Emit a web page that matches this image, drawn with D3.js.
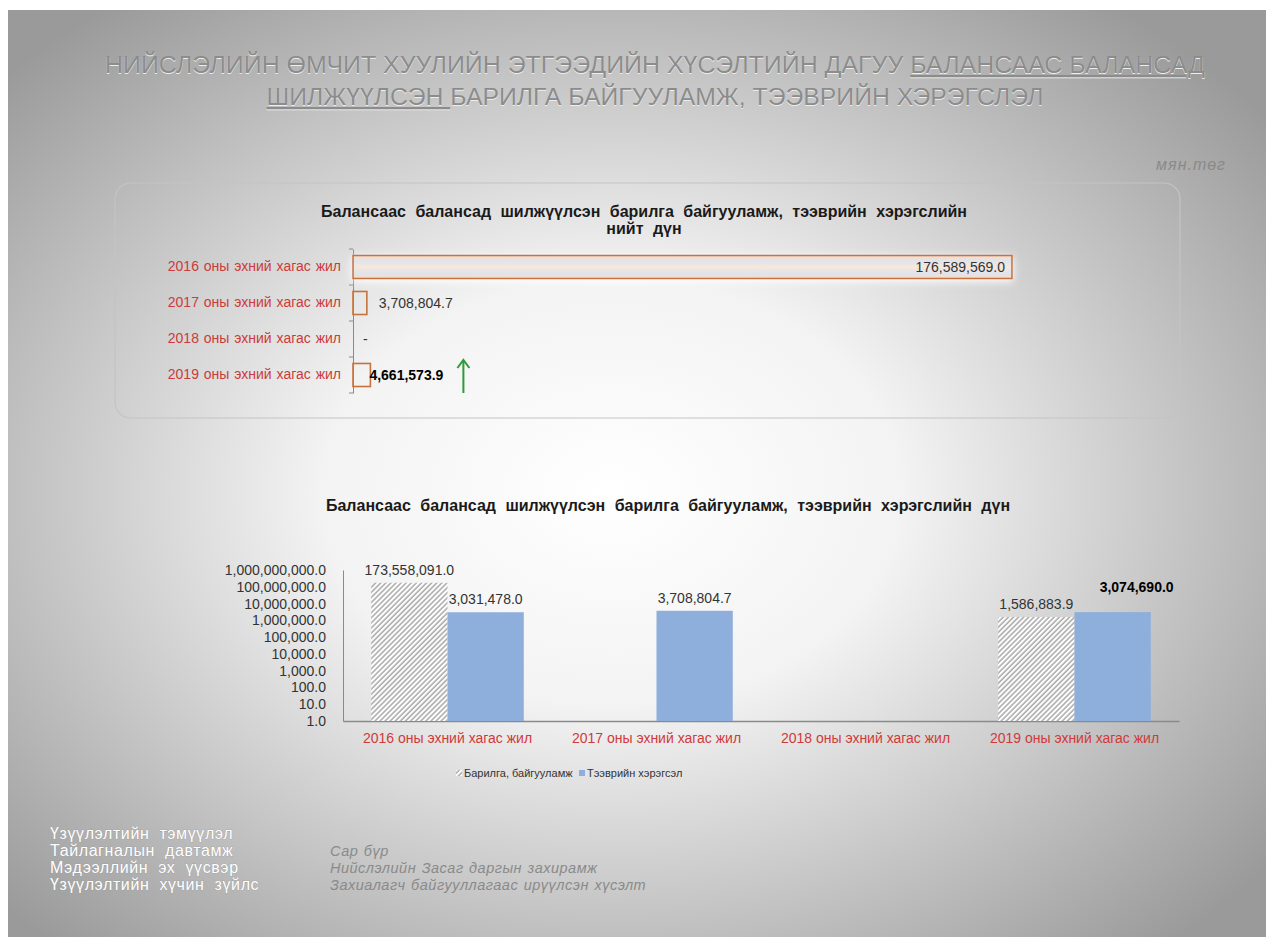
<!DOCTYPE html>
<html>
<head>
<meta charset="utf-8">
<script src="https://cdn.jsdelivr.net/npm/d3@7"></script>
<style>
	body { margin: 0; background: #fff; }
	text { font-family: "Liberation Sans", Arial, sans-serif; }
</style>
</head>
<body>
<div id="slide"></div>
<script>
// Data
var categories = ["2016 оны эхний  хагас жил", "2017 оны эхний  хагас жил", "2018 оны эхний  хагас жил", "2019 оны эхний  хагас жил"];
var totals = [176589569.0, 3708804.7, 0, 4661573.9];
var buildings = [173558091.0, null, null, 1586883.9];
var vehicles = [3031478.0, 3708804.7, null, 3074690.0];
var seriesNames = ["Барилга, байгууламж", "Тээврийн хэрэгсэл"];
var yTicks = [1, 10, 100, 1000, 10000, 100000, 1000000, 10000000, 100000000, 1000000000];
var footerLabels = ["Үзүүлэлтийн тэмүүлэл", "Тайлагналын давтамж", "Мэдээллийн эх үүсвэр", "Үзүүлэлтийн хүчин зүйлс"];
var footerValues = ["", "Сар бүр", "Нийслэлийн Засаг даргын захирамж", "Захиалагч байгууллагаас ирүүлсэн хүсэлт"];

var fmt = d3.format(",.1f");

var svg = d3.select("#slide")
	.append("svg")
	.attr("width", 1274)
	.attr("height", 947);

var defs = svg.append("defs");

// slide background
var bg = defs.append("radialGradient")
	.attr("id", "bg")
	.attr("cx", "48%")
	.attr("cy", "52%")
	.attr("r", "66%");
bg.append("stop").attr("offset", "0%").attr("stop-color", "#ffffff");
bg.append("stop").attr("offset", "35%").attr("stop-color", "#f3f3f3");
bg.append("stop").attr("offset", "100%").attr("stop-color", "#9a9a9a");

// hatch for buildings
var hatch = defs.append("pattern")
	.attr("id", "hatch")
	.attr("patternUnits", "userSpaceOnUse")
	.attr("width", 3.6)
	.attr("height", 3.6)
	.attr("patternTransform", "rotate(45)");
hatch.append("rect").attr("width", 3.6).attr("height", 3.6).attr("fill", "#ffffff");
hatch.append("line")
	.attr("x1", 1).attr("y1", 0).attr("x2", 1).attr("y2", 3.6)
	.attr("stroke", "#9a9a9a")
	.attr("stroke-width", 1.3);

// fill of the total bars
var barGrad = defs.append("linearGradient")
	.attr("id", "barGrad")
	.attr("x1", 0).attr("y1", 0).attr("x2", 0).attr("y2", 1);
barGrad.append("stop").attr("offset", "0%").attr("stop-color", "#f7dcc8");
barGrad.append("stop").attr("offset", "25%").attr("stop-color", "#dfe5ee");
barGrad.append("stop").attr("offset", "50%").attr("stop-color", "#f8e6d9");
barGrad.append("stop").attr("offset", "75%").attr("stop-color", "#dfe5ee");
barGrad.append("stop").attr("offset", "100%").attr("stop-color", "#f7dcc8");

var glow = defs.append("filter")
	.attr("id", "glow")
	.attr("x", "-10%").attr("y", "-60%")
	.attr("width", "120%").attr("height", "220%");
glow.append("feDropShadow")
	.attr("dx", 0).attr("dy", 2)
	.attr("stdDeviation", 4)
	.attr("flood-color", "#ffffff")
	.attr("flood-opacity", 1);

svg.append("rect")
	.attr("x", 8)
	.attr("y", 10)
	.attr("width", 1258)
	.attr("height", 927)
	.attr("fill", "url(#bg)");

// Page title
var titleLines = [
	[["НИЙСЛЭЛИЙН ӨМЧИТ ХУУЛИЙН ЭТГЭЭДИЙН ХҮСЭЛТИЙН ДАГУУ ", false], ["БАЛАНСААС БАЛАНСАД", true]],
	[["ШИЛЖҮҮЛСЭН ", true], ["БАРИЛГА БАЙГУУЛАМЖ, ТЭЭВРИЙН ХЭРЭГСЛЭЛ", false]]
];
var titleWidths = [1100, 777];
[["#eeeeee", 1], ["#8c8c8c", 0]].forEach(function(layer) {
	titleLines.forEach(function(line, i) {
		var t = svg.append("text")
			.attr("x", 655)
			.attr("y", 73 + i * 32 + layer[1])
			.attr("text-anchor", "middle")
			.attr("textLength", titleWidths[i])
			.attr("lengthAdjust", "spacingAndGlyphs")
			.style("font-family", "'Liberation Sans Narrow', 'Liberation Sans', sans-serif")
			.style("font-size", "23px")
			.style("fill", layer[0]);
		line.forEach(function(part) {
			t.append("tspan")
				.style("text-decoration", part[1] ? "underline" : "none")
				.text(part[0]);
		});
	});
});

svg.append("text")
	.attr("x", 1226)
	.attr("y", 170)
	.attr("text-anchor", "end")
	.style("font-size", "16px")
	.style("font-style", "italic")
	.style("letter-spacing", "1px")
	.style("fill", "#8a8a8a")
	.text("мян.төг");

// ---------- upper chart: totals ----------
svg.append("rect")
	.attr("x", 115)
	.attr("y", 183)
	.attr("width", 1065)
	.attr("height", 235)
	.attr("rx", 16)
	.attr("fill", "none")
	.attr("stroke", "#c4c4c4")
	.attr("stroke-width", 1.2);

var upperTitle = ["Балансаас балансад шилжүүлсэн барилга байгууламж, тээврийн хэрэгслийн", "нийт дүн"];
svg.append("g")
	.selectAll("text")
	.data(upperTitle)
	.enter()
	.append("text")
	.attr("x", 644)
	.attr("y", function(d, i) { return 217 + i * 17; })
	.attr("text-anchor", "middle")
	.style("font-size", "16px")
	.style("font-weight", "bold")
	.style("word-spacing", "5px")
	.style("fill", "#1a1a1a")
	.text(function(d) { return d; });

var xTot = d3.scaleLinear()
	.domain([0, d3.max(totals)])
	.range([353, 1012]);

var yTot = d3.scaleBand()
	.domain(categories)
	.range([249, 393])
	.paddingInner(0.36)
	.paddingOuter(0.18);

var yTotAxis = svg.append("g")
	.attr("transform", "translate(353,0)")
	.call(d3.axisLeft(yTot).tickSize(0).tickPadding(12));
yTotAxis.select(".domain").attr("stroke", "#8a8a8a");
yTotAxis.selectAll("text")
	.style("font-family", "'Liberation Sans', sans-serif")
	.style("font-size", "14px")
	.style("word-spacing", "1px")
	.style("fill", "#cc3a3a");

// small ticks between categories
svg.append("g")
	.selectAll("line")
	.data(d3.range(categories.length + 1))
	.enter()
	.append("line")
	.attr("x1", 349)
	.attr("x2", 353)
	.attr("y1", function(d) { return yTot.range()[0] + d * yTot.step(); })
	.attr("y2", function(d) { return yTot.range()[0] + d * yTot.step(); })
	.attr("stroke", "#8a8a8a");

var totRows = totals.map(function(v, i) {
	return { cat: categories[i], value: v, idx: i };
});

svg.append("g")
	.selectAll("rect")
	.data(totRows.filter(function(d) { return d.value > 0; }))
	.enter()
	.append("rect")
	.attr("x", xTot(0))
	.attr("y", function(d) { return yTot(d.cat); })
	.attr("width", function(d) { return xTot(d.value) - xTot(0); })
	.attr("height", yTot.bandwidth())
	.attr("fill", function(d) { return d.idx === 0 ? "url(#barGrad)" : "none"; })
	.attr("stroke", "#c8733a")
	.attr("stroke-width", 1.6)
	.attr("filter", function(d) { return d.idx === 0 ? "url(#glow)" : null; });

svg.append("g")
	.selectAll("text")
	.data(totRows)
	.enter()
	.append("text")
	.attr("x", function(d) {
		if (d.idx === 0) return xTot(d.value) - 7;
		if (d.value === 0) return xTot(0) + 10;
		if (d.idx === 3) return xTot(d.value) - 1;
		return xTot(d.value) + 12;
	})
	.attr("y", function(d) { return yTot(d.cat) + yTot.bandwidth() / 2; })
	.attr("dy", "0.35em")
	.attr("text-anchor", function(d) { return d.idx === 0 ? "end" : "start"; })
	.style("font-size", "14px")
	.style("font-weight", function(d) { return d.idx === 3 ? "bold" : "normal"; })
	.style("fill", function(d) { return d.idx === 3 ? "#000" : "#333"; })
	.text(function(d) { return d.value === 0 ? "-" : fmt(d.value); });

// green arrow next to 2019
var arrowX = xTot(totals[3]) + 93;
var arrowY = yTot(categories[3]) + yTot.bandwidth() / 2;
svg.append("line")
	.attr("x1", arrowX).attr("x2", arrowX)
	.attr("y1", arrowY + 18).attr("y2", arrowY - 14)
	.attr("stroke", "#2e9a3a")
	.attr("stroke-width", 2);
svg.append("path")
	.attr("d", "M" + (arrowX - 6) + "," + (arrowY - 7) + "L" + arrowX + "," + (arrowY - 15) + "L" + (arrowX + 6) + "," + (arrowY - 7))
	.attr("fill", "none")
	.attr("stroke", "#2e9a3a")
	.attr("stroke-width", 2);

// ---------- lower chart: by type, log scale ----------
svg.append("text")
	.attr("x", 668)
	.attr("y", 511)
	.attr("text-anchor", "middle")
	.style("font-size", "16px")
	.style("font-weight", "bold")
	.style("word-spacing", "5px")
	.style("fill", "#1a1a1a")
	.text("Балансаас балансад шилжүүлсэн барилга байгууламж, тээврийн хэрэгслийн дүн");

var x0 = d3.scaleBand()
	.domain(categories)
	.range([343, 1179])
	.paddingInner(0.27)
	.paddingOuter(0.135);

var x1 = d3.scaleBand()
	.domain(seriesNames)
	.range([0, x0.bandwidth()]);

var y = d3.scaleLog()
	.domain([1, 1000000000])
	.range([721, 570]);

var yAxis = svg.append("g")
	.attr("transform", "translate(343,0)")
	.call(d3.axisLeft(y).tickValues(yTicks).tickFormat(fmt).tickSize(0).tickPadding(17));
yAxis.select(".domain").attr("stroke", "#8a8a8a");
yAxis.selectAll("text")
	.style("font-family", "'Liberation Sans', sans-serif")
	.style("font-size", "14px")
	.style("fill", "#333");

var xAxis = svg.append("g")
	.attr("transform", "translate(0,721)")
	.call(d3.axisBottom(x0).tickSize(0).tickPadding(12));
xAxis.select(".domain").attr("stroke", "#8a8a8a").attr("stroke-width", 1.5);
xAxis.selectAll("text")
	.style("font-family", "'Liberation Sans', sans-serif")
	.style("font-size", "14px")
	.style("fill", "#d03a3a");

var rows = categories.map(function(c, i) {
	return [
		{ cat: c, key: seriesNames[0], value: buildings[i] },
		{ cat: c, key: seriesNames[1], value: vehicles[i] }
	];
});
var cells = d3.merge(rows).filter(function(d) { return d.value; });

svg.append("g")
	.selectAll("rect")
	.data(cells)
	.enter()
	.append("rect")
	.attr("x", function(d) { return x0(d.cat) + x1(d.key); })
	.attr("y", function(d) { return y(d.value); })
	.attr("width", x1.bandwidth())
	.attr("height", function(d) { return y(1) - y(d.value); })
	.attr("fill", function(d) { return d.key === seriesNames[0] ? "url(#hatch)" : "#8eaedb"; });

svg.append("g")
	.selectAll("text")
	.data(cells)
	.enter()
	.append("text")
	.attr("x", function(d) { return x0(d.cat) + x1(d.key) + x1.bandwidth() / 2; })
	.attr("y", function(d) { return y(d.value) - 8; })
	.attr("dx", function(d) { return d.value === vehicles[3] ? 24 : 0; })
	.attr("dy", function(d) { return d.value === vehicles[3] ? -12 : 0; })
	.attr("text-anchor", "middle")
	.style("font-size", "14px")
	.style("font-weight", function(d) { return d.value === vehicles[3] ? "bold" : "normal"; })
	.style("fill", function(d) { return d.value === vehicles[3] ? "#000" : "#333"; })
	.text(function(d) { return fmt(d.value); });

// legend
var legend = svg.selectAll(".legend")
	.data(seriesNames)
	.enter()
	.append("g")
	.attr("class", "legend")
	.attr("transform", function(d, i) {
		return "translate(" + (456 + i * 123) + ",777)";
	});
legend.append("rect")
	.attr("x", 0)
	.attr("y", -7)
	.attr("width", 6)
	.attr("height", 6)
	.attr("fill", function(d, i) { return i === 0 ? "url(#hatch)" : "#8eaedb"; });
legend.append("text")
	.attr("x", 8)
	.attr("y", 0)
	.style("font-size", "11px")
	.style("fill", "#333")
	.text(function(d) { return d; });

// footer notes
svg.append("g")
	.selectAll("text")
	.data(footerLabels)
	.enter()
	.append("text")
	.attr("x", 50)
	.attr("y", function(d, i) { return 839 + i * 17; })
	.style("font-size", "16px")
	.style("letter-spacing", "0.6px")
	.style("word-spacing", "5px")
	.style("fill", "#ffffff")
	.style("paint-order", "stroke")
	.style("stroke", "#9a9a9a")
	.style("stroke-width", 0.6)
	.text(function(d) { return d; });

svg.append("g")
	.selectAll("text")
	.data(footerValues)
	.enter()
	.append("text")
	.attr("x", 330)
	.attr("y", function(d, i) { return 839 + i * 17; })
	.style("font-size", "14.5px")
	.style("font-style", "italic")
	.style("letter-spacing", "0.5px")
	.style("word-spacing", "1px")
	.style("fill", "#8a8a8a")
	.text(function(d) { return d; });
</script>
</body>
</html>
